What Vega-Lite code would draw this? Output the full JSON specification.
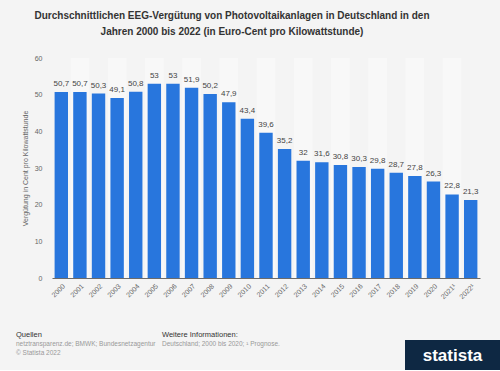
{
  "$schema": "https://vega.github.io/schema/vega-lite/v6.json",
  "background": "#f4f4f4",
  "padding": {"left": 16, "top": 11, "right": 0, "bottom": 0},
  "bounds": "flush",
  "spacing": 62,
  "title": {
    "text": ["Durchschnittlichen EEG-Vergütung von Photovoltaikanlagen in Deutschland in den", "Jahren 2000 bis 2022 (in Euro-Cent pro Kilowattstunde)"],
    "fontSize": 10,
    "fontWeight": "bold",
    "color": "#333333",
    "anchor": "middle",
    "lineHeight": 16,
    "offset": 17,
    "dx": -26
  },
  "datasets": {
    "eeg": [
      {"Jahr": "2000", "Wert": 50.7},
      {"Jahr": "2001", "Wert": 50.7},
      {"Jahr": "2002", "Wert": 50.3},
      {"Jahr": "2003", "Wert": 49.1},
      {"Jahr": "2004", "Wert": 50.8},
      {"Jahr": "2005", "Wert": 53},
      {"Jahr": "2006", "Wert": 53},
      {"Jahr": "2007", "Wert": 51.9},
      {"Jahr": "2008", "Wert": 50.2},
      {"Jahr": "2009", "Wert": 47.9},
      {"Jahr": "2010", "Wert": 43.4},
      {"Jahr": "2011", "Wert": 39.6},
      {"Jahr": "2012", "Wert": 35.2},
      {"Jahr": "2013", "Wert": 32},
      {"Jahr": "2014", "Wert": 31.6},
      {"Jahr": "2015", "Wert": 30.8},
      {"Jahr": "2016", "Wert": 30.3},
      {"Jahr": "2017", "Wert": 29.8},
      {"Jahr": "2018", "Wert": 28.7},
      {"Jahr": "2019", "Wert": 27.8},
      {"Jahr": "2020", "Wert": 26.3},
      {"Jahr": "2021¹", "Wert": 22.8},
      {"Jahr": "2022¹", "Wert": 21.3}
    ]
  },
  "vconcat": [
    {
      "width": 428,
      "height": 220,
      "data": {"name": "eeg"},
      "layer": [
        {
          "mark": {"type": "bar", "color": "#ffffff"},
          "encoding": {
            "x": {"field": "Jahr", "type": "nominal", "sort": null, "scale": {"paddingInner": 0, "paddingOuter": 0}, "axis": null},
            "y": {
              "datum": 60, "type": "quantitative",
              "axis": {"title": "Vergütung in Cent pro Kilowattstunde"}
            },
            "opacity": {"condition": {"test": "toNumber(substring(datum.Jahr, 0, 4)) % 2 == 1", "value": 0.4}, "value": 0}
          }
        },
        {
          "layer": [
            {
              "mark": {"type": "bar", "color": "#2876dd"},
              "encoding": {
                "x": {
                  "field": "Jahr", "type": "nominal", "sort": null,
                  "scale": {"paddingInner": 0.28, "paddingOuter": 0.14},
                  "axis": {
                    "title": null,
                    "labelAngle": -45,
                    "labelFontSize": 7,
                    "labelColor": "#666666",
                    "labelPadding": 4,
                    "ticks": false,
                    "domainColor": "#6b6b6b",
                    "domainWidth": 1
                  }
                },
                "y": {
                  "field": "Wert", "type": "quantitative",
                  "scale": {"domain": [0, 60], "nice": false},
                  "axis": {"title": "Vergütung in Cent pro Kilowattstunde"}
                }
              }
            },
            {
              "mark": {"type": "text", "baseline": "bottom", "dy": -4, "fontSize": 8, "color": "#444444"},
              "encoding": {
                "x": {"field": "Jahr", "type": "nominal", "sort": null},
                "y": {"field": "Wert", "type": "quantitative"},
                "text": {"field": "Wert", "type": "quantitative", "format": ".1~f"}
              }
            }
          ]
        }
      ],
      "resolve": {"scale": {"x": "independent"}}
    },
    {
      "bounds": "flush",
      "spacing": 10,
      "hconcat": [
        {
          "width": 100,
          "height": 30,
          "data": {"values": []},
          "mark": "text",
          "title": {
            "text": "Quellen",
            "subtitle": ["netztransparenz.de; BMWK; Bundesnetzagentur", "© Statista 2022"],
            "anchor": "start",
            "orient": "top",
            "dx": -36,
            "dy": 16,
            "offset": 0,
            "fontSize": 7.5,
            "fontWeight": "normal",
            "color": "#333333",
            "subtitleFontSize": 6.5,
            "subtitleColor": "#999999",
            "subtitlePadding": 2,
            "subtitleLineHeight": 9
          }
        },
        {
          "width": 233,
          "height": 30,
          "data": {"values": []},
          "mark": "text",
          "title": {
            "text": "Weitere Informationen:",
            "subtitle": ["Deutschland; 2000 bis 2020; ¹ Prognose."],
            "anchor": "start",
            "orient": "top",
            "dy": 7,
            "offset": 0,
            "fontSize": 7.5,
            "fontWeight": "normal",
            "color": "#333333",
            "subtitleFontSize": 6.5,
            "subtitleColor": "#999999",
            "subtitlePadding": 2,
            "subtitleLineHeight": 9
          }
        },
        {
          "width": 95,
          "height": 30,
          "view": {"fill": "#0e2843", "stroke": null},
          "data": {"values": [{"t": "statista"}]},
          "mark": {"type": "text", "color": "#ffffff", "fontSize": 17, "fontWeight": "bold", "dy": 1},
          "encoding": {"text": {"field": "t", "type": "nominal"}}
        }
      ]
    }
  ],
  "config": {
    "font": "Liberation Sans",
    "view": {"stroke": null},
    "axisY": {
      "titleFontSize": 7,
      "titleFontWeight": "normal",
      "titleColor": "#666666",
      "titlePadding": 6,
      "labelFontSize": 7,
      "labelColor": "#666666",
      "labelPadding": 10,
      "ticks": false,
      "domain": false,
      "gridColor": "#e0e0e0",
      "tickCount": 6,
      "labelOverlap": false
    },
    "locale": {"number": {"decimal": ",", "thousands": ".", "grouping": [3], "currency": ["", " €"]}}
  }
}
